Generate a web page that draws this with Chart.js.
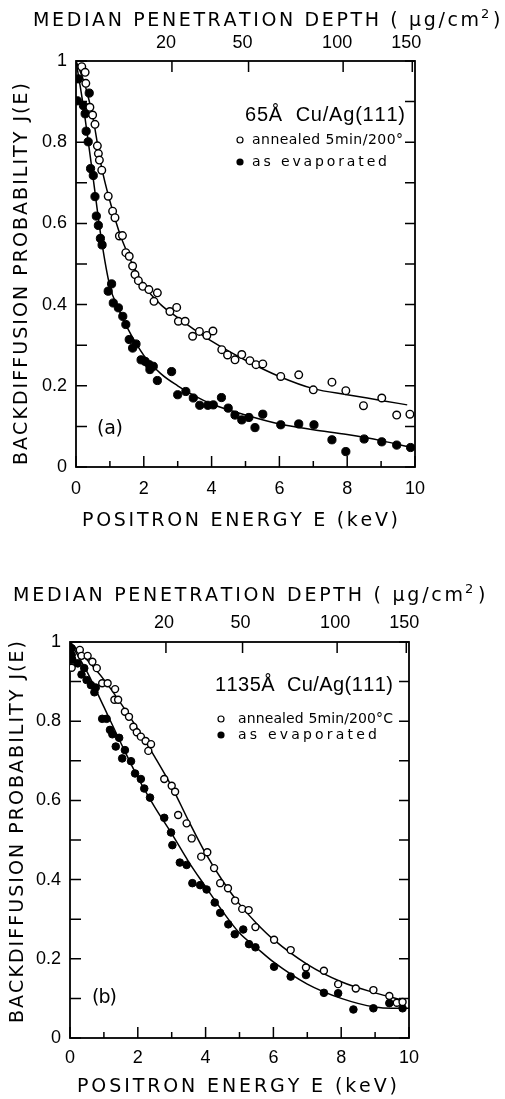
<!DOCTYPE html>
<html><head><meta charset="utf-8">
<script src="https://cdn.jsdelivr.net/npm/chart.js@4.4.1/dist/chart.umd.min.js"></script>
<style>
html,body{margin:0;padding:0;background:#fff;}
#wrap{position:relative;width:505px;height:1099px;overflow:hidden;background:#fff;}
canvas{position:absolute;left:0;}
</style></head><body>
<div id="wrap">
<canvas id="ca" width="505" height="550" style="top:0;width:505px;height:550px"></canvas>
<canvas id="cb" width="505" height="549" style="top:550px;width:505px;height:549px"></canvas>
</div>
<script>
// ---- axes / tick labels ----
const energyTicks = [0, 2, 4, 6, 8, 10];
const energyMinorTicks = [1, 3, 5, 7, 9];
const jTicks = [0, 0.2, 0.4, 0.6, 0.8, 1];
const jMinorTicks = [0.1, 0.3, 0.5, 0.7, 0.9];
const depthTickLabels = [20, 50, 100, 150];
const depthTickEnergy = [2.83, 5.09, 7.88, 9.92];

// ---- panel (a): 65 Å Cu/Ag(111) ----
const aAnnealed = [[0.17,0.986],[0.27,0.972],[0.29,0.945],[0.41,0.886],[0.49,0.867],[0.56,0.844],[0.63,0.791],[0.66,0.772],[0.69,0.756],[0.76,0.731],[0.95,0.667],[1.08,0.630],[1.15,0.614],[1.28,0.569],[1.37,0.570],[1.47,0.528],[1.57,0.519],[1.67,0.495],[1.74,0.474],[1.84,0.459],[1.97,0.445],[2.15,0.437],[2.30,0.408],[2.40,0.429],[2.77,0.383],[2.97,0.393],[3.02,0.359],[3.22,0.359],[3.44,0.322],[3.64,0.334],[3.86,0.324],[4.04,0.335],[4.30,0.289],[4.47,0.276],[4.69,0.264],[4.89,0.277],[5.13,0.262],[5.31,0.252],[5.51,0.254],[6.04,0.223],[6.57,0.227],[7.00,0.190],[7.55,0.209],[7.96,0.188],[8.48,0.151],[9.02,0.170],[9.46,0.128],[9.85,0.130]];
const aEvaporated = [[0.04,0.902],[0.07,0.956],[0.22,0.890],[0.27,0.870],[0.39,0.921],[0.30,0.827],[0.36,0.801],[0.43,0.735],[0.51,0.718],[0.56,0.666],[0.60,0.618],[0.66,0.595],[0.72,0.563],[0.77,0.547],[0.95,0.433],[1.05,0.451],[1.10,0.404],[1.25,0.392],[1.38,0.371],[1.47,0.351],[1.57,0.314],[1.67,0.293],[1.77,0.303],[1.92,0.264],[2.04,0.260],[2.16,0.252],[2.18,0.240],[2.28,0.248],[2.40,0.213],[2.82,0.235],[3.00,0.178],[3.24,0.186],[3.46,0.170],[3.65,0.152],[3.89,0.152],[4.05,0.153],[4.29,0.171],[4.49,0.145],[4.69,0.128],[4.89,0.116],[5.10,0.122],[5.28,0.097],[5.51,0.130],[6.04,0.104],[6.57,0.106],[7.02,0.104],[7.55,0.067],[7.96,0.038],[8.50,0.069],[9.02,0.062],[9.46,0.054],[9.87,0.048]];
const aFitAnnealed = [[0,1.0],[0.25,0.945],[0.5,0.86],[0.75,0.74],[1.0,0.655],[1.25,0.585],[1.5,0.53],[2,0.448],[2.5,0.40],[3,0.368],[3.5,0.338],[4,0.31],[5,0.263],[6,0.223],[7,0.193],[8,0.178],[9,0.164],[9.77,0.153]];
const aFitEvaporated = [[0,1.0],[0.1,0.95],[0.25,0.87],[0.5,0.715],[0.75,0.56],[1.0,0.445],[1.25,0.39],[1.5,0.345],[2,0.275],[2.5,0.23],[3,0.20],[3.5,0.175],[4,0.155],[5,0.128],[6,0.106],[7,0.092],[8,0.08],[9,0.065],[10,0.046]];

// ---- panel (b): 1135 Å Cu/Ag(111) ----
const bAnnealed = [[0.05,0.935],[0.29,0.980],[0.34,0.965],[0.52,0.965],[0.66,0.950],[0.79,0.934],[0.95,0.896],[1.11,0.896],[1.31,0.854],[1.33,0.881],[1.42,0.854],[1.62,0.824],[1.74,0.811],[1.87,0.786],[1.97,0.772],[2.09,0.761],[2.23,0.750],[2.31,0.725],[2.39,0.742],[2.78,0.654],[3.00,0.637],[3.10,0.622],[3.19,0.563],[3.44,0.542],[3.59,0.504],[3.87,0.458],[4.05,0.469],[4.25,0.429],[4.43,0.391],[4.66,0.378],[4.87,0.347],[5.08,0.326],[5.27,0.323],[5.47,0.280],[6.02,0.248],[6.51,0.222],[6.96,0.178],[7.49,0.170],[7.91,0.136],[8.43,0.125],[8.95,0.121],[9.42,0.106],[9.64,0.089],[9.81,0.091]];
const bEvaporated = [[0.05,0.984],[0.05,0.967],[0.07,0.955],[0.23,0.946],[0.34,0.918],[0.42,0.934],[0.49,0.904],[0.62,0.891],[0.72,0.873],[0.76,0.885],[0.95,0.806],[1.08,0.806],[1.18,0.778],[1.25,0.767],[1.35,0.736],[1.45,0.758],[1.54,0.706],[1.62,0.727],[1.80,0.699],[1.92,0.668],[2.09,0.654],[2.19,0.630],[2.36,0.607],[2.78,0.556],[2.98,0.519],[3.02,0.487],[3.24,0.443],[3.44,0.437],[3.61,0.391],[3.84,0.386],[4.03,0.375],[4.27,0.342],[4.43,0.316],[4.67,0.287],[4.86,0.262],[5.11,0.274],[5.28,0.237],[5.47,0.229],[6.02,0.180],[6.51,0.155],[6.96,0.159],[7.49,0.114],[7.91,0.113],[8.36,0.072],[8.95,0.075],[9.42,0.088],[9.81,0.075]];
const bFitAnnealed = [[0,1.0],[0.25,0.977],[0.5,0.955],[1,0.905],[1.5,0.845],[2,0.78],[2.5,0.71],[3,0.635],[3.5,0.548],[4,0.466],[4.5,0.397],[5,0.338],[5.5,0.29],[6,0.249],[7,0.186],[8,0.142],[9,0.114],[9.85,0.095]];
const bFitEvaporated = [[0,1.0],[0.25,0.963],[0.5,0.925],[1,0.836],[1.5,0.745],[2,0.658],[2.5,0.583],[3,0.516],[3.5,0.445],[4,0.382],[4.5,0.32],[5,0.265],[5.5,0.228],[6,0.192],[7,0.136],[8,0.10],[9,0.078],[9.5,0.075],[10,0.075]];

// ---- texts ----
const topTitle = 'MEDIAN PENETRATION DEPTH ( μg/cm';
const xTitle = 'POSITRON ENERGY E (keV)';
const yTitle = 'BACKDIFFUSION PROBABILITY J(E)';
const legendAnnealedA = 'annealed 5min/200°';
const legendAnnealedB = 'annealed 5min/200°C';
const legendEvaporated = 'as evaporated';

const FONT = '"Liberation Sans", Arial, sans-serif';
const TFONT = '"DejaVu Sans", "Liberation Sans", sans-serif';

function drawFitted(ctx, text, x0, x1, y, size, fam) {
  ctx.font = size + 'px ' + (fam || TFONT);
  const chars = Array.from(text);
  const widths = chars.map(c => ctx.measureText(c).width);
  const total = widths.reduce((a, b) => a + b, 0);
  const gap = chars.length > 1 ? (x1 - x0 - total) / (chars.length - 1) : 0;
  ctx.textAlign = 'left';
  ctx.textBaseline = 'middle';
  let x = x0;
  chars.forEach((c, i) => { ctx.fillText(c, x, y); x += widths[i] + gap; });
}

function framePlugin(P) {
  return {
    id: 'frame' + P.name,
    beforeDatasetsDraw(chart) {
      const {ctx, chartArea: a, scales: {x, y}} = chart;
      ctx.save();
      ctx.strokeStyle = '#000';
      ctx.lineWidth = 1.8;
      ctx.strokeRect(a.left, a.top, a.right - a.left, a.bottom - a.top);
      ctx.lineWidth = 1.5;
      ctx.beginPath();
      energyTicks.forEach(v => { const p = x.getPixelForValue(v); ctx.moveTo(p, a.bottom); ctx.lineTo(p, a.bottom - 11); });
      energyMinorTicks.forEach(v => { const p = x.getPixelForValue(v); ctx.moveTo(p, a.bottom); ctx.lineTo(p, a.bottom - 6); });
      jTicks.concat(jMinorTicks).forEach(v => {
        const p = y.getPixelForValue(v);
        ctx.moveTo(a.left, p); ctx.lineTo(a.left + 11, p);
        ctx.moveTo(a.right, p); ctx.lineTo(a.right - 10, p);
      });
      depthTickEnergy.forEach(v => { const p = x.getPixelForValue(v); ctx.moveTo(p, a.top); ctx.lineTo(p, a.top + 11); });
      ctx.stroke();
      ctx.restore();
    },
    afterDraw(chart) {
      const ctx = chart.ctx;
      const o = P.offY;
      ctx.save();
      ctx.fillStyle = '#000';
      ctx.strokeStyle = '#000';
      // top title
      drawFitted(ctx, topTitle, P.tt.x0, P.tt.x1, P.tt.y - o, 19);
      ctx.font = '13px ' + TFONT; ctx.textAlign = 'left'; ctx.textBaseline = 'middle';
      ctx.fillText('2', P.tt.supX, P.tt.supY - o);
      ctx.font = '19px ' + TFONT;
      ctx.fillText(')', P.tt.parX, P.tt.y - o);
      // x title
      drawFitted(ctx, xTitle, P.xt.x0, P.xt.x1, P.xt.y - o, 19);
      // y title (rotated)
      ctx.save();
      ctx.translate(P.yt.x, P.yt.y0 - o);
      ctx.rotate(-Math.PI / 2);
      drawFitted(ctx, yTitle, 0, P.yt.y0 - P.yt.y1, 0, 19);
      ctx.restore();
      // legend header
      drawFitted(ctx, P.header.text, P.header.x0, P.header.x1, P.header.y - o, 20, FONT);
      // legend markers
      ctx.lineWidth = 1.2;
      ctx.beginPath(); ctx.arc(P.lg.mx, P.lg.y1 - o, 3, 0, Math.PI * 2); ctx.stroke();
      ctx.beginPath(); ctx.arc(P.lg.mx, P.lg.y2 - o, 3.6, 0, Math.PI * 2); ctx.fill();
      drawFitted(ctx, P.lg.t1, P.lg.x0, P.lg.x1a, P.lg.y1 - o, 14);
      drawFitted(ctx, legendEvaporated, P.lg.x0, P.lg.x1b, P.lg.y2 - o, 14);
      // panel label
      drawFitted(ctx, P.label.text, P.label.x0, P.label.x1, P.label.y - o, 19);
      ctx.restore();
    }
  };
}

function makePanel(id, P) {
  const pts = arr => arr.map(([x, y]) => ({x, y}));
  const tickFont = {family: FONT, size: 18, lineHeight: 1};
  return new Chart(document.getElementById(id), {
    type: 'scatter',
    data: {datasets: [
      {data: pts(P.ann), pointStyle: 'circle', pointRadius: P.r, pointBackgroundColor: '#fff', pointBorderColor: '#000', pointBorderWidth: 1.4, showLine: false, order: 0},
      {data: pts(P.evap), pointStyle: 'circle', pointRadius: P.r + 0.3, pointBackgroundColor: '#000', pointBorderColor: '#000', pointBorderWidth: 1, showLine: false, order: 0},
      {data: pts(P.fitAnn), showLine: true, pointRadius: 0, borderColor: '#000', borderWidth: 1.5, cubicInterpolationMode: 'monotone', order: 1},
      {data: pts(P.fitEvap), showLine: true, pointRadius: 0, borderColor: '#000', borderWidth: 1.5, cubicInterpolationMode: 'monotone', order: 1}
    ]},
    options: {
      responsive: false, animation: false, devicePixelRatio: 1, events: [],
      layout: {padding: {left: 0, top: 0, bottom: 0, right: P.padRight}},
      plugins: {legend: {display: false}, tooltip: {enabled: false}},
      scales: {
        x: {type: 'linear', position: 'bottom', min: 0, max: 10,
          grid: {display: false, drawTicks: false}, border: {display: false},
          afterBuildTicks: s => { s.ticks = energyTicks.map(v => ({value: v})); },
          afterFit: s => { s.height = P.bottomH; },
          ticks: {color: '#000', font: tickFont, padding: P.xPad, maxRotation: 0, autoSkip: false, callback: v => String(v)}},
        x2: {type: 'linear', axis: 'x', position: 'top', min: 0, max: 10,
          grid: {display: false, drawTicks: false}, border: {display: false},
          afterBuildTicks: s => { s.ticks = depthTickEnergy.map(v => ({value: v})); },
          afterFit: s => { s.height = P.topH; },
          ticks: {color: '#000', font: tickFont, padding: P.x2Pad, labelOffset: P.x2Off, maxRotation: 0, autoSkip: false,
            callback: (v, i) => String(depthTickLabels[i])}},
        y: {type: 'linear', position: 'left', min: 0, max: 1,
          grid: {display: false, drawTicks: false}, border: {display: false},
          afterBuildTicks: s => { s.ticks = jTicks.map(v => ({value: v})); },
          afterFit: s => { s.width = P.leftW; },
          ticks: {color: '#000', font: tickFont, padding: P.yPad, autoSkip: false,
            callback: v => (v === 0 ? '0' : v === 1 ? '1' : v.toFixed(1))}}
      }
    },
    plugins: [framePlugin(P)]
  });
}

makePanel('ca', {
  name: 'a', offY: 0, r: 3.8,
  ann: aAnnealed, evap: aEvaporated, fitAnn: aFitAnnealed, fitEvap: aFitEvaporated,
  leftW: 76, padRight: 90, topH: 61, bottomH: 83,
  xPad: 13, x2Pad: 9, x2Off: -6, yPad: 9,
  tt: {x0: 33, x1: 479, y: 21, supX: 481, supY: 15, parX: 493},
  xt: {x0: 82, x1: 398, y: 521},
  yt: {x: 22, y0: 465, y1: 83},
  header: {text: '65Å  Cu/Ag(111)', x0: 245, x1: 405, y: 115},
  lg: {mx: 240, y1: 140, y2: 162, x0: 252, x1a: 403, x1b: 387, t1: legendAnnealedA},
  label: {text: '(a)', x0: 97, x1: 123, y: 429}
});

makePanel('cb', {
  name: 'b', offY: 550, r: 3.5,
  ann: bAnnealed, evap: bEvaporated, fitAnn: bFitAnnealed, fitEvap: bFitEvaporated,
  leftW: 70, padRight: 96, topH: 92, bottomH: 61,
  xPad: 11, x2Pad: 10, x2Off: -2, yPad: 9,
  tt: {x0: 13, x1: 463, y: 596, supX: 465, supY: 590, parX: 478},
  xt: {x0: 77, x1: 397, y: 1087},
  yt: {x: 18, y0: 1023, y1: 641},
  header: {text: '1135Å  Cu/Ag(111)', x0: 215, x1: 393, y: 685},
  lg: {mx: 221, y1: 719, y2: 735, x0: 238, x1a: 393, x1b: 377, t1: legendAnnealedB},
  label: {text: '(b)', x0: 92, x1: 117, y: 998}
});
</script>
</body></html>
